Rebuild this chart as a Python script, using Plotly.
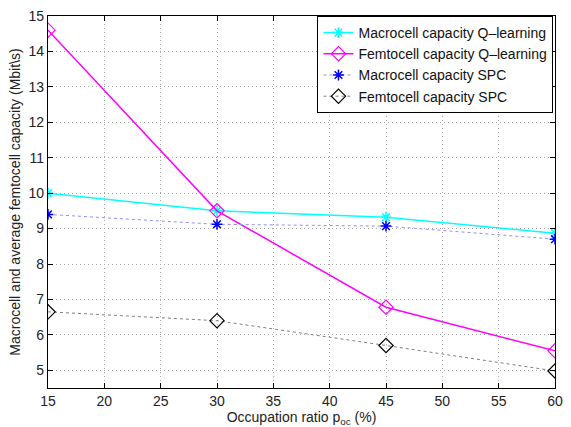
import plotly.graph_objects as go

occupation = [15, 30, 45, 60]
macro_q = [10.0, 9.5, 9.32, 8.87]
femto_q = [14.6, 9.5, 6.78, 5.55]
macro_spc = [9.4, 9.12, 9.07, 8.7]
femto_spc = [6.65, 6.4, 5.7, 4.98]

x_ticks = list(range(15, 61, 5))
y_ticks = list(range(5, 16))

fig = go.Figure()
fig.add_trace(go.Scatter(x=occupation, y=macro_q, mode="lines+markers",
                         name="Macrocell capacity Q\u2013learning",
                         line=dict(color="#00ffff", width=1.5),
                         marker=dict(symbol="asterisk-open", size=9, color="#00ffff",
                                     line=dict(color="#00ffff", width=1.5))))
fig.add_trace(go.Scatter(x=occupation, y=femto_q, mode="lines+markers",
                         name="Femtocell capacity Q\u2013learning",
                         line=dict(color="#ff00ff", width=1.5),
                         marker=dict(symbol="diamond-open", size=11, color="#ff00ff",
                                     line=dict(color="#ff00ff", width=1.2))))
fig.add_trace(go.Scatter(x=occupation, y=macro_spc, mode="lines+markers",
                         name="Macrocell capacity SPC",
                         line=dict(color="#9090ff", width=1, dash="dot"),
                         marker=dict(symbol="asterisk-open", size=9, color="#0000ff",
                                     line=dict(color="#0000ff", width=1.5))))
fig.add_trace(go.Scatter(x=occupation, y=femto_spc, mode="lines+markers",
                         name="Femtocell capacity SPC",
                         line=dict(color="#808080", width=1, dash="dot"),
                         marker=dict(symbol="diamond-open", size=11, color="#000000",
                                     line=dict(color="#000000", width=1.2))))

axis_common = dict(showline=True, linecolor="black", linewidth=1.2, mirror="ticks",
                   ticks="inside", ticklen=5, tickcolor="black",
                   showgrid=True, gridcolor="#a8a8a8", griddash="1px,3px", gridwidth=1,
                   zeroline=False, tickfont=dict(size=14, color="#222"))

fig.update_xaxes(range=[15, 60], tickvals=x_ticks,
                 title=dict(text="Occupation ratio p<sub>oc</sub> (%)",
                            font=dict(size=14, color="#222"), standoff=0),
                 **axis_common)
fig.update_yaxes(range=[4.5, 15], tickvals=y_ticks,
                 title=dict(text="Macrocell and average femtocell capacity (Mbit\\s)",
                            font=dict(size=14, color="#222"), standoff=4),
                 **axis_common)

fig.update_layout(
    width=571, height=427,
    margin=dict(l=48, r=8, t=15, b=36),
    paper_bgcolor="white", plot_bgcolor="white",
    font=dict(family="Liberation Sans, Arial, sans-serif", size=14, color="#222"),
    legend=dict(x=0.997, xanchor="right", y=1.0, yanchor="top",
                bgcolor="white", bordercolor="black", borderwidth=1,
                font=dict(size=14, color="#111"), itemwidth=30,
                tracegroupgap=0),
    showlegend=True,
)

fig.write_html("out.html")
